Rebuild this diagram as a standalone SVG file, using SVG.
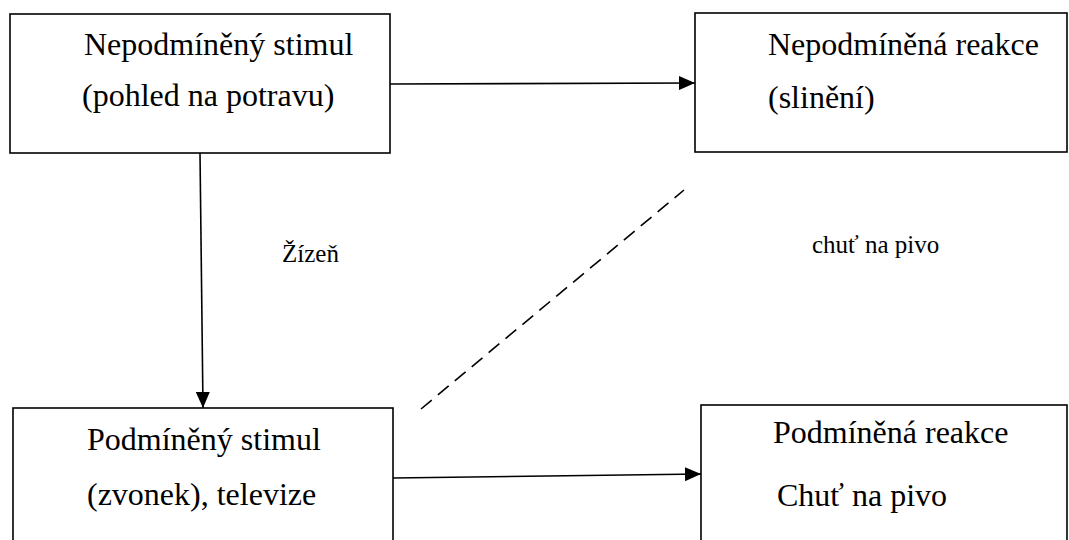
<svg xmlns="http://www.w3.org/2000/svg" width="1069" height="540" viewBox="0 0 1069 540">
<style>
.box{fill:#fff;stroke:#000;stroke-width:1.6}
.t{font-family:"Liberation Serif","Times New Roman",serif;font-size:32px;fill:#000}
.l{font-family:"Liberation Serif","Times New Roman",serif;font-size:25px;fill:#000}
.c{stroke:#000;stroke-width:1.6;fill:none}
</style>
<defs>
<marker id="ah" markerWidth="16" markerHeight="14" refX="16" refY="7" orient="auto" markerUnits="userSpaceOnUse">
<path d="M0,0 L16,7 L0,14 Z" fill="#000"/>
</marker>
</defs>
<rect width="1069" height="540" fill="#fff"/>
<g id="node-ns">
<rect class="box" x="10" y="14" width="380" height="139"/>
<text class="t" x="84" y="55">Nepodmíněný stimul</text>
<text class="t" x="82" y="106">(pohled na potravu)</text>
</g>
<g id="node-nr">
<rect class="box" x="695" y="13" width="372" height="139"/>
<text class="t" x="768" y="55">Nepodmíněná reakce</text>
<text class="t" x="768" y="108">(slinění)</text>
</g>
<g id="node-ps">
<rect class="box" x="13" y="408" width="380" height="140"/>
<text class="t" x="87" y="450">Podmíněný stimul</text>
<text class="t" x="87" y="505">(zvonek), televize</text>
</g>
<g id="node-pr">
<rect class="box" x="701" y="405" width="366" height="143"/>
<text class="t" x="773" y="443">Podmíněná reakce</text>
<text class="t" x="777" y="506">Chuť na pivo</text>
</g>
<g id="connectors">
<line class="c" x1="390" y1="84" x2="695" y2="83" marker-end="url(#ah)"/>
<line class="c" x1="200" y1="153" x2="203" y2="408" marker-end="url(#ah)"/>
<line class="c" x1="393" y1="478" x2="701" y2="474" marker-end="url(#ah)"/>
<line class="c" x1="421" y1="409" x2="684" y2="190" stroke-dasharray="14,8"/>
</g>
<text class="l" x="282" y="262">Žízeň</text>
<text class="l" x="812" y="253">chuť na pivo</text>
</svg>
